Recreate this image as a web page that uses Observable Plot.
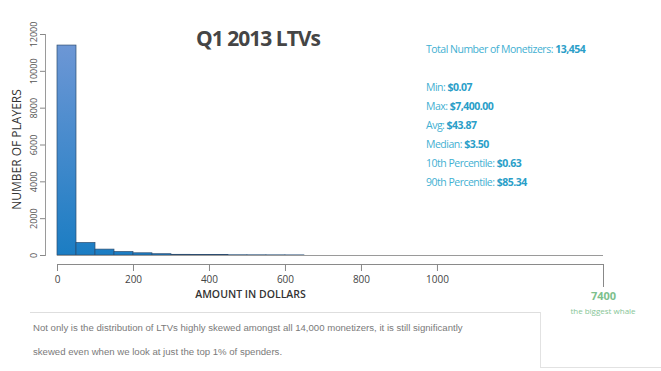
<!DOCTYPE html>
<html>
<head>
<meta charset="utf-8">
<script src="https://cdn.jsdelivr.net/npm/d3@7"></script>
<script src="https://cdn.jsdelivr.net/npm/@observablehq/plot@0.6"></script>
<style>
  html, body { margin: 0; padding: 0; background: #fff; }
  #wrap { position: relative; width: 661px; height: 371px; overflow: hidden; font-family: "Open Sans", sans-serif; }
  #wrap svg { position: absolute; left: 0; top: 0; }
  .abs { position: absolute; white-space: nowrap; }
  #title { left: 0; width: 516px; top: 24px; text-align: center; font-size: 21px; font-weight: 700; color: #454545; letter-spacing: -1px; font-family: "Open Sans", sans-serif; }
  .stat { left: 426px; font-size: 10.5px; color: #3fb0d2; letter-spacing: -0.5px; font-family: "Open Sans", sans-serif; line-height: 14px; }
  .stat b { color: #2a9ec8; font-weight: 700; }
  .para { left: 33px; font-size: 9.6px; color: #7a7a7a; font-family: "Liberation Sans", Arial, sans-serif; }
  #sep { left: 30px; top: 312px; width: 510px; height: 0; border-top: 1px solid #dedede; }
  #box { left: 540px; top: 312px; width: 130px; height: 55px; border-left: 1px solid #e2e2e2; border-bottom: 1px solid #e2e2e2; }
  #whale { left: 566px; top: 305px; width: 74px; text-align: center; font-size: 8px; color: #86c596; font-family: "Open Sans", sans-serif; }
</style>
</head>
<body>
<div id="wrap"></div>
<script>
// Histogram bins (USD lower edge) and player counts
const binLo  = [0, 50, 100, 150, 200, 250, 300, 350, 400, 450, 500, 550, 600];
const counts = [11400, 680, 320, 190, 120, 70, 38, 28, 22, 12, 10, 8, 6];
const binWidth = 50;
const xEnd = 1437;          // right end of the truncated axis (max at 7400)
const xTicks = [0, 200, 400, 600, 800, 1000];
const yTicks = [0, 2000, 4000, 6000, 8000, 10000, 12000];
const endLabel = "7400";

const title = "Q1 2013 LTVs";
const statLabels = ["Min: ", "Max: ", "Avg: ", "Median: ", "10th Percentile: ", "90th Percentile: "];
const statValues = ["$0.07", "$7,400.00", "$43.87", "$3.50", "$0.63", "$85.34"];
const totalLabel = "Total Number of Monetizers: ";
const totalValue = "13,454";
const paraLines = [
  "Not only is the distribution of LTVs highly skewed amongst all 14,000 monetizers, it is still significantly",
  "skewed even when we look at just the top 1% of spenders."
];

const bins = binLo.map((lo, i) => ({lo, hi: lo + binWidth, n: counts[i]}));

const chart = Plot.plot({
  width: 661,
  height: 371,
  marginTop: 34,
  marginBottom: 107,
  marginLeft: 45,
  marginRight: 58,
  style: {background: "transparent", fontFamily: "Open Sans, sans-serif"},
  x: {domain: [0, xEnd], insetLeft: 12},
  y: {domain: [0, 12000], insetBottom: 9},
  marks: [
    Plot.rectY(bins, {x1: "lo", x2: "hi", y: "n", fill: "url(#ltvgrad)", stroke: "#2d4d70", strokeWidth: 0.7}),
    Plot.ruleY([0], {x1: 0, x2: xEnd, stroke: "#9a9a9a", strokeWidth: 1}),
    Plot.ruleY([0], {x1: 0, x2: xEnd, dy: 9, stroke: "#8a8a8a", strokeWidth: 1}),
    Plot.frame({anchor: "left", insetBottom: 9, stroke: "#9a9a9a"}),
    Plot.axisX({ticks: xTicks, tickSize: 7, tickPadding: 4, tickFormat: d => String(d), fontSize: 10, color: "#444", stroke: "#888", label: null}),
    Plot.axisX({ticks: [xEnd], tickSize: 23, tickPadding: 5, tickFormat: () => endLabel, fontSize: 11, fontWeight: 700, color: "#7cc08c", stroke: "#888", label: null}),
    Plot.axisY({ticks: yTicks, tickSize: 5, tickPadding: 4, tickRotate: -90, tickFormat: d => String(d), fontSize: 9, color: "#555", stroke: "#888", label: null}),
    Plot.text(["NUMBER OF PLAYERS"], {frameAnchor: "left", textAnchor: "middle", rotate: -90, dx: -28, fontSize: 12, fill: "#333", fontWeight: 500, letterSpacing: -0.3}),
    Plot.text(["AMOUNT IN DOLLARS"], {frameAnchor: "bottom", x: 0, dx: 193, dy: 33, fontSize: 10.5, fill: "#333", fontWeight: 600, letterSpacing: -0.3})
  ]
});

// vertical gradient for the bars
const svg = d3.select(chart);
const defs = svg.insert("defs", ":first-child");
const g = defs.append("linearGradient").attr("id", "ltvgrad")
  .attr("gradientUnits", "userSpaceOnUse").attr("x1", 0).attr("x2", 0).attr("y1", 34).attr("y2", 255);
g.append("stop").attr("offset", "0%").attr("stop-color", "#7198d6");
g.append("stop").attr("offset", "100%").attr("stop-color", "#1b7dc3");

const wrap = document.getElementById("wrap");
wrap.appendChild(chart);

function add(html, cls, id, top) {
  const d = document.createElement("div");
  d.className = "abs " + (cls || "");
  if (id) d.id = id;
  if (top != null) d.style.top = top + "px";
  d.innerHTML = html;
  wrap.appendChild(d);
}
add(title, "", "title");
add(totalLabel + "<b>" + totalValue + "</b>", "stat", null, 42);
statLabels.forEach((l, i) => add(l + "<b>" + statValues[i] + "</b>", "stat", null, 80 + i * 19));
add(paraLines[0], "para", null, 322);
add(paraLines[1], "para", null, 346);
add("", "", "sep");
add("", "", "box");
add("the biggest whale", "", "whale");
</script>
</body>
</html>
